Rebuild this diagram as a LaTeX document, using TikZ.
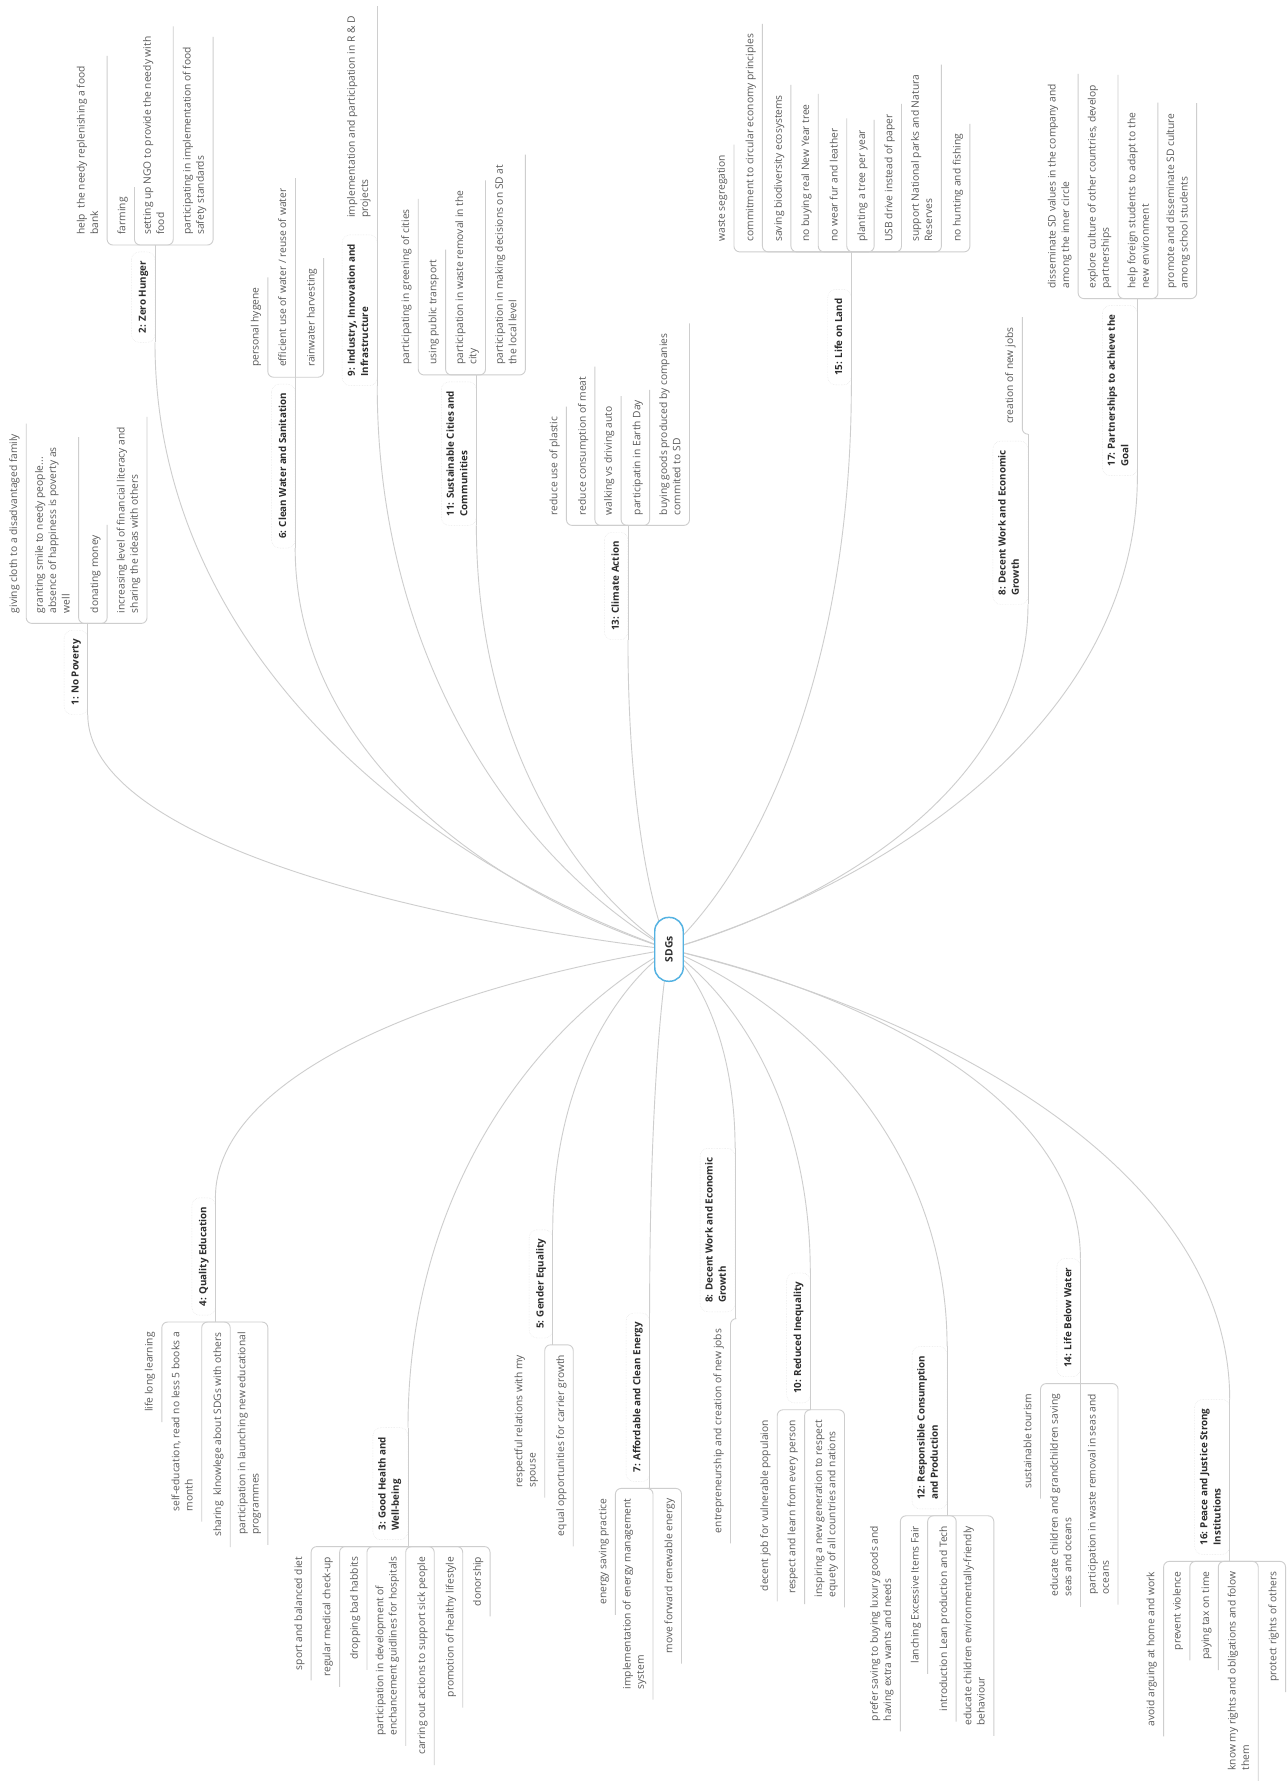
\documentclass[tikz,border=0pt]{standalone}
\usepackage{fontspec}
\setmainfont{Open Sans}
\usetikzlibrary{calc,backgrounds}
\definecolor{linegray}{RGB}{206,206,206}
\definecolor{leafgray}{RGB}{90,90,90}
\definecolor{topicgray}{RGB}{45,45,45}
\definecolor{hubblue}{RGB}{84,178,226}
\newcommand\leaffont{\fontsize{9.0}{11.7}\selectfont}
\newcommand\topicfont{\fontsize{8.6}{11.7}\selectfont\bfseries}
\newcommand\branchcurve[2]{\draw[conn] let \p1=(#1),\p2=(#2) in (#1) .. controls ({\x1+0.5*(\x2-\x1)},{\y1+0.15*(\y2-\y1)}) and (\x2,{\y1+0.5*(\y2-\y1)}) .. (#2);}
\begin{document}
\begin{tikzpicture}[x=1pt,y=-1pt,
 conn/.style={draw=linegray,line width=0.8pt},
 elbow/.style={conn,rounded corners=5pt},
 leaf/.style={rotate=90,font=\leaffont,text=leafgray,align=left,inner xsep=9pt,inner ysep=4.5pt,outer sep=0pt,execute at begin node=\strut,execute at end node=\strut},
 leafup/.style={leaf,anchor=south west},
 leafdown/.style={leaf,anchor=south east},
 topic/.style={rotate=90,font=\topicfont,text=topicgray,align=left,inner xsep=8pt,inner ysep=4.5pt,outer sep=0pt,draw=black!12,densely dotted,rounded corners=7pt,execute at begin node=\strut,execute at end node=\strut},
 topicup/.style={topic,anchor=south east},
 topicdown/.style={topic,anchor=south west},
 hub/.style={rotate=90,draw=hubblue,line width=1.3pt,fill=white,rounded corners=12pt,minimum width=56pt,minimum height=25pt,inner sep=2pt,font=\fontsize{9}{11}\selectfont\bfseries,text=topicgray}]
\useasboundingbox (0,0) rectangle (1130,1568);

\node[hub] (sdg) at (587,833) {SDGs};

% ---------- top half ----------
% 1
\coordinate (b1) at (77,547);
\node[topicup] (t1) at (77,553) {1: No Poverty};
\node[leafup] (c1a) at (23,547) {giving cloth to a disadvantaged family};
\node[leafup] (c1b) at (69,547) {granting smile to needy people...\\absence of happiness is poverty as\\well};
\node[leafup] (c1c) at (94,547) {donating money};
\node[leafup] (c1d) at (129,547) {increasing level of financial literacy and\\sharing the ideas with others};
% 2
\coordinate (b2) at (136,215);
\node[topicup] (t2) at (136,221) {2: Zero Hunger};
\node[leafup] (c2a) at (94,215) {help~ the needy replenishing a food\\bank};
\node[leafup] (c2b) at (118,215) {farming};
\node[leafup] (c2c) at (152,215) {setting up NGO to provide the needy with\\food};
\node[leafup] (c2d) at (187,215) {participating in implementation of food\\safety standards};
% 6
\coordinate (b6) at (259,331);
\node[topicup] (t6) at (259,337) {6: Clean Water and Sanitation};
\node[leafup] (c6a) at (235,331) {personal hygene};
\node[leafup] (c6b) at (259,331) {efficient use of water / reuse of water};
\node[leafup] (c6c) at (284,331) {rainwater harvesting};
% 9
\coordinate (b9) at (331,200);
\node[topicup] (t9) at (331,206) {9: Industry, Innovation and\\Infrastructure};
\node[leafup] (c9a) at (331,200) {implementation and participation in R \& D\\projects};
% 11
\coordinate (b11) at (418,329);
\node[topicup] (t11) at (418,335) {11: Sustainable Cities and\\Communities};
\node[leafup] (c11a) at (367,329) {participating in greening of cities};
\node[leafup] (c11b) at (391,329) {using public transport};
\node[leafup] (c11c) at (426,329) {participation in waste removal in the\\city};
\node[leafup] (c11d) at (461,329) {participation in making decisions on SD at\\the local level};
% 13
\coordinate (b13) at (551,461);
\node[topicup] (t13) at (551,467) {13: Climate Action};
\node[leafup] (c13a) at (497,461) {reduce use of plastic};
\node[leafup] (c13b) at (522,461) {reduce consumption of meat};
\node[leafup] (c13c) at (545,461) {walking vs driving auto};
\node[leafup] (c13d) at (570,461) {participatin in Earth Day};
\node[leafup] (c13e) at (605,461) {buying goods produced by companies\\commited to SD};
% 15
\coordinate (b15) at (747,221);
\node[topicup] (t15) at (747,254) {15: Life on Land};
\node[leafup] (c15a) at (644,221) {waste segregation};
\node[leafup] (c15b) at (669,221) {commitment to circular economy principles};
\node[leafup] (c15c) at (694,221) {saving biodiversity ecosystems};
\node[leafup] (c15d) at (718,221) {no buying real New Year tree};
\node[leafup] (c15e) at (743,221) {no wear fur and leather};
\node[leafup] (c15f) at (767,221) {planting a tree per year};
\node[leafup] (c15g) at (791,221) {USB drive instead of paper};
\node[leafup] (c15h) at (826,221) {support National parks and Natura\\Reserves};
\node[leafup] (c15i) at (851,221) {no hunting and fishing};
% 8 (top)
\coordinate (b8) at (902,381);
\node[topicup] (t8) at (902,387) {8: Decent Work and Economic\\Growth};
\node[leafup] (c8a) at (897,381) {creation of new jobs};
% 17
\coordinate (b17) at (998,262);
\node[topicup] (t17) at (998,268) {17: Partnerships to achieve the\\Goal};
\node[leafup] (c17a) at (946,262) {disseminate SD values in the company and\\among the inner circle};
\node[leafup] (c17b) at (981,262) {explore culture of other countries, develop\\partnerships};
\node[leafup] (c17c) at (1016,262) {help foreign students to adapt to the\\new environment};
\node[leafup] (c17d) at (1050,262) {promote and disseminate SD culture\\among school students};

% ---------- bottom half ----------
% 4
\coordinate (b4) at (189,1160);
\node[topicdown] (t4) at (189,1154) {4: Quality Education};
\node[leafdown] (c4a) at (142,1160) {life long learning};
\node[leafdown] (c4b) at (177,1160) {self-education, read no less 5 books a\\month};
\node[leafdown] (c4c) at (202,1160) {sharing~ klnowlege about SDGs with others};
\node[leafdown] (c4d) at (235,1160) {participation in launching new educational\\programmes};
% 3
\coordinate (b3) at (358,1357);
\node[topicdown] (t3) at (358,1351) {3: Good Health and\\Well-being};
\node[leafdown] (c3a) at (273,1357) {sport and balanced diet};
\node[leafdown] (c3b) at (298,1357) {regular medical check-up};
\node[leafdown] (c3c) at (322,1357) {dropping bad habbits};
\node[leafdown] (c3d) at (356,1357) {participation in development of\\enchancement guidlines for hospitals};
\node[leafdown] (c3e) at (381,1357) {carring out actions to support sick people};
\node[leafdown] (c3f) at (406,1357) {promotion of healthy lifestyle};
\node[leafdown] (c3g) at (430,1357) {donorship};
% 5
\coordinate (b5) at (485,1180);
\node[topicdown] (t5) at (485,1174) {5: Gender Equality};
\node[leafdown] (c5a) at (478,1180) {respectful relations with my\\spouse};
\node[leafdown] (c5b) at (503,1180) {equal opportunities for carrier growth};
% 7
\coordinate (b7) at (570,1306);
\node[topicdown] (t7) at (570,1300) {7: Affordable and Clean Energy};
\node[leafdown] (c7a) at (540,1306) {energy saving practice};
\node[leafdown] (c7b) at (573,1306) {implementation of energy management\\system};
\node[leafdown] (c7c) at (598,1306) {move forward renewable energy};
% 8 (bottom)
\coordinate (b8b) at (645,1157);
\node[topicdown] (t8b) at (645,1151) {8: Decent Work and Economic\\Growth};
\node[leafdown] (c8ba) at (641,1157) {entrepreneurship and creation of new jobs};
% 10
\coordinate (b10) at (711,1237);
\node[topicdown] (t10) at (711,1231) {10: Reduced Inequality};
\node[leafdown] (c10a) at (682,1237) {decent job for vulnerable populaion};
\node[leafdown] (c10b) at (706,1237) {respect and learn from every person};
\node[leafdown] (c10c) at (741,1237) {inspiring a new generation to respect\\equety of all countries and nations};
% 12
\coordinate (b12) at (831,1330);
\node[topicdown] (t12) at (831,1324) {12: Responsible Consumption\\and Production};
\node[leafdown] (c12a) at (790,1330) {prefer saving to buying luxury goods and\\having extra wants and needs};
\node[leafdown] (c12b) at (814,1330) {lanching Excessive Items Fair};
\node[leafdown] (c12c) at (839,1330) {introduction Lean production and Tech};
\node[leafdown] (c12d) at (872,1330) {educate children environmentally-friendly\\behaviour};
% 14
\coordinate (b14) at (948,1214);
\node[topicdown] (t14) at (948,1208) {14: Life Below Water};
\node[leafdown] (c14a) at (913,1214) {sustainable tourism};
\node[leafdown] (c14b) at (948,1214) {educate children and grandchildren saving\\seas and oceans};
\node[leafdown] (c14c) at (981,1214) {participation in waste removal in seas and\\oceans};
% 16
\coordinate (b16) at (1079,1370);
\node[topicdown] (t16) at (1079,1364) {16: Peace and Justice Strong\\Institutions};
\node[leafdown] (c16a) at (1021,1370) {avoid arguing at home and work};
\node[leafdown] (c16b) at (1044,1370) {prevent violence};
\node[leafdown] (c16c) at (1069,1370) {paying tax on time};
\node[leafdown] (c16d) at (1104,1370) {know my rights and obligations and folow\\them};
\node[leafdown] (c16e) at (1128,1370) {protect rights of others};

% ---------- connectors ----------
\begin{scope}[on background layer]
\fill[white] (0,0) rectangle (1130,1568);
\foreach \t in {t1,t2,t6,t9,t11,t13,t15,t8,t17}
  \branchcurve{sdg.center}{\t.south west};
\foreach \t in {t4,t3,t5,t7,t8b,t10,t12,t14,t16}
  \branchcurve{sdg.center}{\t.south east};
\end{scope}

\foreach \t/\b in {t1/b1,t2/b2,t6/b6,t9/b9,t11/b11,t13/b13,t15/b15,t8/b8,t17/b17}
  \draw[conn] (\t.south west) -- (\b);
\foreach \t/\b in {t4/b4,t3/b3,t5/b5,t7/b7,t8b/b8b,t10/b10,t12/b12,t14/b14,t16/b16}
  \draw[conn] (\t.south east) -- (\b);

\foreach \b/\c in {b1/c1a,b1/c1b,b1/c1c,b1/c1d,b2/c2a,b2/c2b,b2/c2c,b2/c2d,b6/c6a,b6/c6b,b6/c6c,b9/c9a,b11/c11a,b11/c11b,b11/c11c,b11/c11d,b13/c13a,b13/c13b,b13/c13c,b13/c13d,b13/c13e,b15/c15a,b15/c15b,b15/c15c,b15/c15d,b15/c15e,b15/c15f,b15/c15g,b15/c15h,b15/c15i,b8/c8a,b17/c17a,b17/c17b,b17/c17c,b17/c17d}
  \draw[elbow] (\b) -| (\c.south east);
\foreach \b/\c in {b4/c4a,b4/c4b,b4/c4c,b4/c4d,b3/c3a,b3/c3b,b3/c3c,b3/c3d,b3/c3e,b3/c3f,b3/c3g,b5/c5a,b5/c5b,b7/c7a,b7/c7b,b7/c7c,b8b/c8ba,b10/c10a,b10/c10b,b10/c10c,b12/c12a,b12/c12b,b12/c12c,b12/c12d,b14/c14a,b14/c14b,b14/c14c,b16/c16a,b16/c16b,b16/c16c,b16/c16d,b16/c16e}
  \draw[elbow] (\b) -| (\c.south west);
\end{tikzpicture}
\end{document}
